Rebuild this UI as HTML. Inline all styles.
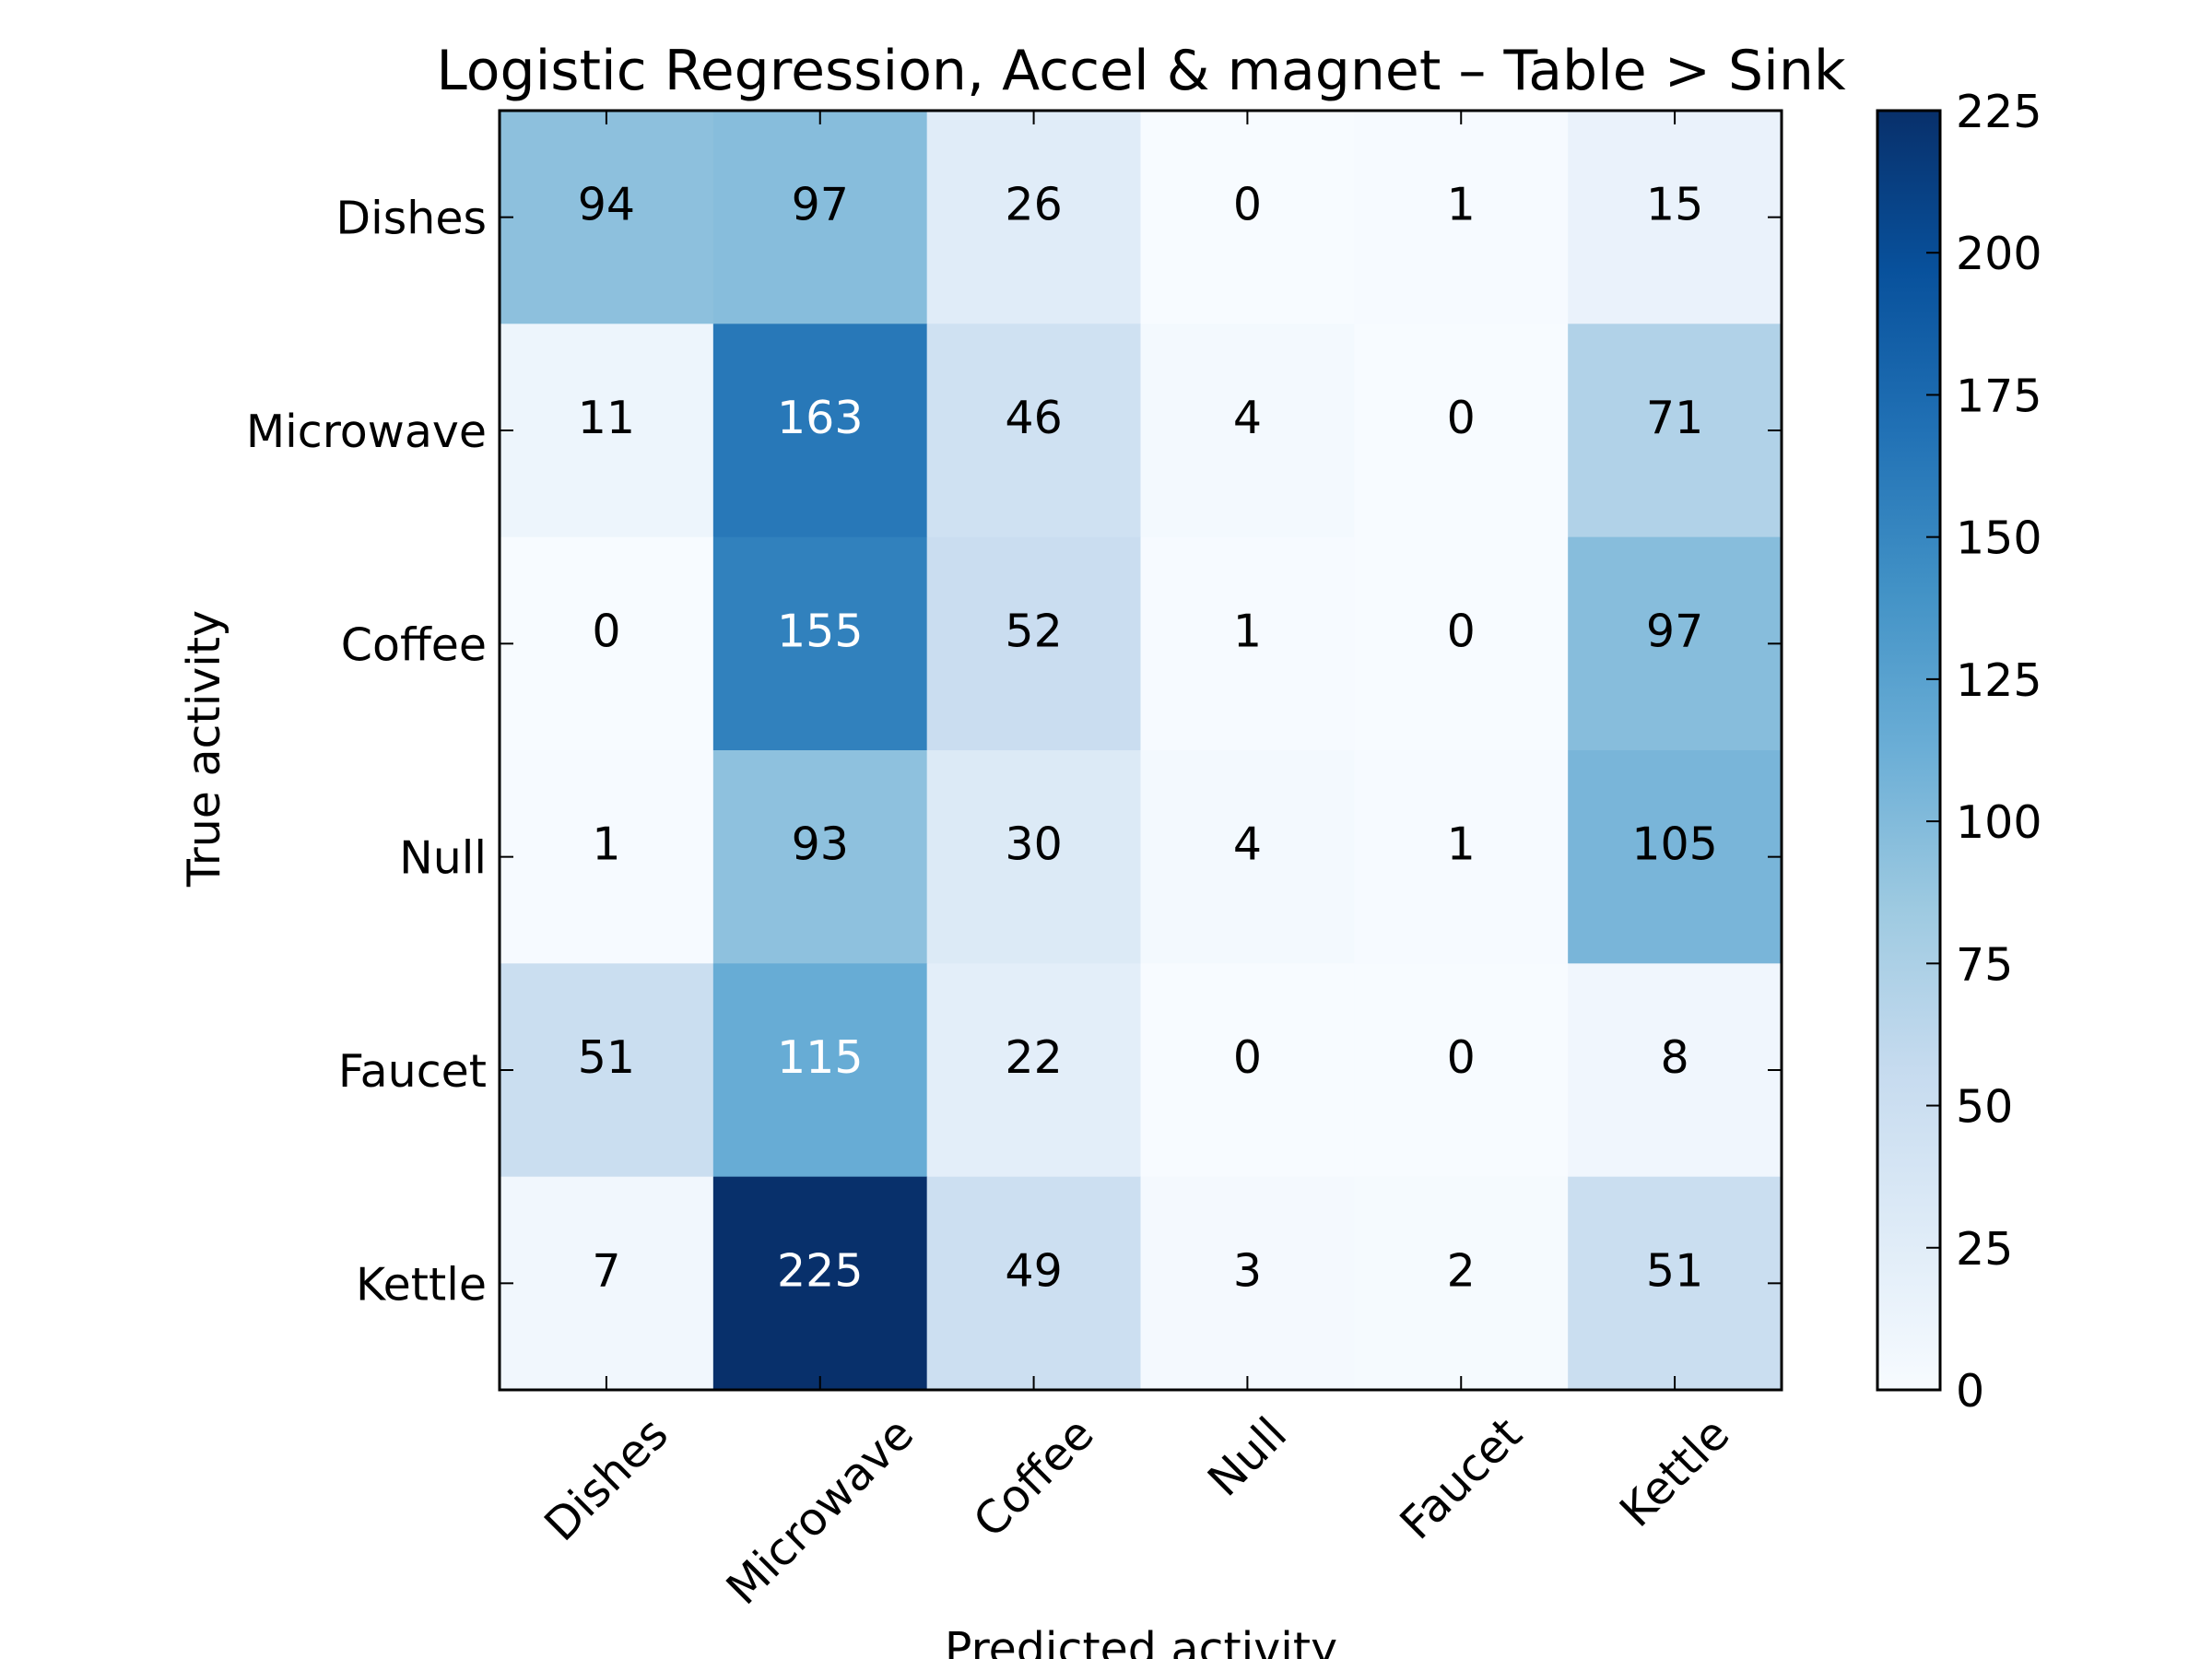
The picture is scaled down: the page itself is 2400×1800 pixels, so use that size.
<!DOCTYPE html>
<html><head><meta charset="utf-8"><style>
html,body{margin:0;padding:0;background:#fff;}
svg{display:block;font-family:"DejaVu Sans","Liberation Sans",sans-serif;}
</style></head><body>
<svg id="chart" width="2400" height="1800" viewBox="0 0 2400 1800" xmlns="http://www.w3.org/2000/svg">
<text x="1238" y="97" font-size="60" text-anchor="middle">Logistic Regression, Accel &amp; magnet – Table &gt; Sink</text>
<g id="cells"></g>
<g id="ticks"></g>
<g id="cbar"></g>
<text transform="translate(238,812) rotate(-90)" font-size="49" text-anchor="middle">True activity</text>
<text x="1238" y="1806" font-size="49" text-anchor="middle">Predicted activity</text>
</svg>
<script>
const categories = ["Dishes","Microwave","Coffee","Null","Faucet","Kettle"];
const row0 = [94,97,26,0,1,15];
const row1 = [11,163,46,4,0,71];
const row2 = [0,155,52,1,0,97];
const row3 = [1,93,30,4,1,105];
const row4 = [51,115,22,0,0,8];
const row5 = [7,225,49,3,2,51];
const matrix = [row0,row1,row2,row3,row4,row5];
const vmin = 0, vmax = 225;
const cbarTicks = [0,25,50,75,100,125,150,175,200,225];

const NS = "http://www.w3.org/2000/svg";
const L = 542, R = 1933, T = 120, B = 1508;
const n = categories.length;
const cw = (R - L) / n, ch = (B - T) / n;
function xPos(i){ return L + i * cw; }
function yPos(j){ return T + j * ch; }
const stops = ["#f7fbff","#deebf7","#c6dbef","#9ecae1","#6baed6","#4292c6","#2171b5","#08519c","#08306b"];
function hex(h){ return [parseInt(h.substr(1,2),16),parseInt(h.substr(3,2),16),parseInt(h.substr(5,2),16)]; }
function color(v){
  let t = Math.max(0, Math.min(1, (v - vmin) / (vmax - vmin))) * (stops.length - 1);
  let i = Math.min(Math.floor(t), stops.length - 2), f = t - i;
  let a = hex(stops[i]), b = hex(stops[i+1]);
  return "rgb(" + a.map((c,k)=>Math.round(c + (b[k]-c)*f)).join(",") + ")";
}
function mk(tag, attrs, parent){
  const e = document.createElementNS(NS, tag);
  for (const k in attrs) e.setAttribute(k, attrs[k]);
  parent.appendChild(e); return e;
}
const cells = document.getElementById("cells");
const ticks = document.getElementById("ticks");
const cbar = document.getElementById("cbar");
for (let r = 0; r < n; r++) {
  for (let c = 0; c < n; c++) {
    const v = matrix[r][c];
    const rect = mk("rect", {x: xPos(c), y: yPos(r), width: cw + 0.5, height: ch + 0.5, fill: color(v)}, cells);
    
    
    const t = mk("text", {x: xPos(c) + cw/2, y: yPos(r) + ch/2 + 3, "font-size": 49, "text-anchor": "middle", fill: v > (vmax/2) ? "#fff" : "#000"}, cells);
    
    
    t.textContent = v;
  }
}
const frame = mk("rect", {x: L, y: T, width: R - L, height: B - T, fill: "none", stroke: "#000", "stroke-width": 3}, ticks);


for (let i = 0; i < n; i++) {
  const cx = xPos(i) + cw/2, cy = yPos(i) + ch/2;
  mk("line", {x1: cx, y1: T, x2: cx, y2: T + 15, stroke: "#000", "stroke-width": 2}, ticks);
  mk("line", {x1: cx, y1: B, x2: cx, y2: B - 15, stroke: "#000", "stroke-width": 2}, ticks);
  mk("line", {x1: L, y1: cy, x2: L + 15, y2: cy, stroke: "#000", "stroke-width": 2}, ticks);
  mk("line", {x1: R, y1: cy, x2: R - 15, y2: cy, stroke: "#000", "stroke-width": 2}, ticks);
  const yl = mk("text", {x: L - 14, y: cy + 18, "font-size": 49, "text-anchor": "end"}, ticks);
  
  
  yl.textContent = categories[i];
  const xl = mk("text", {x: 0, y: 0, "font-size": 49, "text-anchor": "middle", "dominant-baseline": "central"}, ticks);
  
  
  xl.textContent = categories[i];
  const w = xl.getComputedTextLength(), h = 49;
  const half = (w + h) * Math.SQRT1_2 / 2;
  xl.setAttribute("transform", "translate(" + cx + "," + (B + 22 + half) + ") rotate(-45)");
}
const CL = 2037, CR = 2105;
const defs = mk("defs", {}, cbar);
const grad = mk("linearGradient", {id: "cg", x1: 0, y1: 1, x2: 0, y2: 0}, defs);
stops.forEach((s, i) => mk("stop", {offset: (i/(stops.length-1)), "stop-color": s}, grad));
const cr = mk("rect", {x: CL, y: T, width: CR - CL, height: B - T, fill: "url(#cg)", stroke: "#000", "stroke-width": 3}, cbar);


function cy(v){ return B - (v - vmin) / (vmax - vmin) * (B - T); }
cbarTicks.forEach(v => {
  const y = cy(v);
  mk("line", {x1: CR, y1: y, x2: CR - 15, y2: y, stroke: "#000", "stroke-width": 2}, cbar);
  const t = mk("text", {x: CR + 17, y: y + 18, "font-size": 49}, cbar);
  
  
  t.textContent = v;
});
</script>
</body></html>
